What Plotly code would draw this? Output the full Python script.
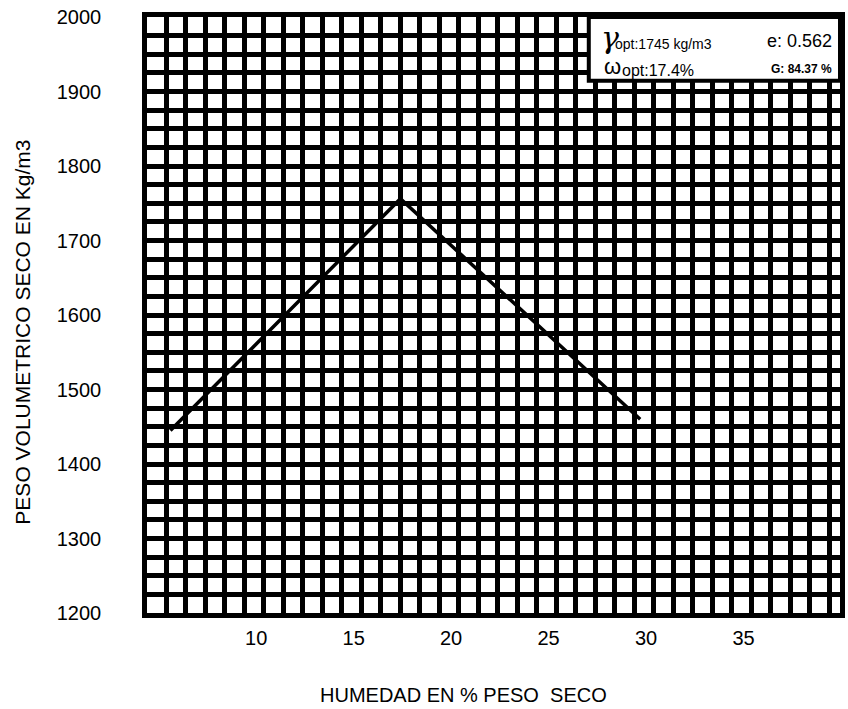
import plotly.graph_objects as go

# Data
moisture = [5.6, 17.4, 29.7]          # % peso seco
dry_density = [1445, 1756, 1460]       # kg/m3

x_ticks = [10, 15, 20, 25, 30, 35]
y_ticks = [1200, 1300, 1400, 1500, 1600, 1700, 1800, 1900, 2000]
x_range = [4.4, 39.95]
y_range = [1200, 2000]

gamma_opt = "1745 kg/m3"
w_opt = "17.4%"
e_val = "0.562"
g_val = "84.37 %"

FONT = "Liberation Sans"

fig = go.Figure()
fig.add_trace(go.Scatter(
    x=moisture, y=dry_density, mode="lines",
    line=dict(color="black", width=3.5),
    showlegend=False, hoverinfo="skip",
))

fig.update_layout(
    width=848, height=709,
    margin=dict(l=147, r=3, t=17, b=96),
    paper_bgcolor="white", plot_bgcolor="white",
    font=dict(family=FONT, color="black", size=20),
    showlegend=False,
)

fig.update_xaxes(
    range=x_range, tickvals=x_ticks, ticktext=[str(v) for v in x_ticks],
    ticks="", ticklabelstandoff=3, showgrid=False, zeroline=False,
    showline=True, linecolor="black", linewidth=4.5, mirror=True,
    tickfont=dict(size=20, family=FONT),
    minor=dict(tick0=x_range[0], dtick=1, showgrid=True,
               gridcolor="black", gridwidth=4.6, ticks=""),
)
fig.update_yaxes(
    range=y_range, tickvals=y_ticks, ticktext=[str(v) for v in y_ticks],
    ticks="", ticklabelstandoff=37, showgrid=False, zeroline=False,
    showline=True, linecolor="black", linewidth=4.5, mirror=True,
    tickfont=dict(size=20, family=FONT),
    minor=dict(tick0=y_range[0], dtick=25, showgrid=True,
               gridcolor="black", gridwidth=4.6, ticks=""),
)

# Axis titles
fig.add_annotation(
    text="HUMEDAD EN % PESO&nbsp;&nbsp;SECO", xref="paper", yref="paper",
    x=0.457, y=-0.138, showarrow=False, xanchor="center", yanchor="middle",
    font=dict(size=20, family=FONT),
)
fig.add_annotation(
    text="PESO VOLUMETRICO SECO EN Kg/m3", xref="paper", yref="paper",
    x=-0.179, y=0.472, showarrow=False, textangle=-90,
    xanchor="center", yanchor="middle", font=dict(size=21, family=FONT),
)

# Info box
fig.add_shape(
    type="rect", xref="paper", yref="paper",
    x0=0.6375, x1=1.0, y0=0.893, y1=1.0,
    fillcolor="white", line=dict(color="black", width=4), layer="above",
)
fig.add_annotation(
    text="<i>γ</i>", xref="paper", yref="paper", x=0.652, y=0.965,
    showarrow=False, xanchor="left", yanchor="middle",
    font=dict(size=30, family="DejaVu Serif"),
)
fig.add_annotation(
    text="opt:" + gamma_opt, xref="paper", yref="paper", x=0.673, y=0.955,
    showarrow=False, xanchor="left", yanchor="middle",
    font=dict(size=14, family=FONT),
)
fig.add_annotation(
    text="e: " + e_val, xref="paper", yref="paper", x=0.992, y=0.959,
    showarrow=False, xanchor="right", yanchor="middle",
    font=dict(size=18, family=FONT),
)
fig.add_annotation(
    text="ω", xref="paper", yref="paper", x=0.656, y=0.917,
    showarrow=False, xanchor="left", yanchor="middle",
    font=dict(size=22, family=FONT),
)
fig.add_annotation(
    text="opt:" + w_opt, xref="paper", yref="paper", x=0.683, y=0.910,
    showarrow=False, xanchor="left", yanchor="middle",
    font=dict(size=16, family=FONT),
)
fig.add_annotation(
    text="<b>G: " + g_val + "</b>", xref="paper", yref="paper", x=0.992, y=0.912,
    showarrow=False, xanchor="right", yanchor="middle",
    font=dict(size=12, family=FONT),
)

fig.write_html(
    "out.html",
    config={"displayModeBar": False},
    post_script="document.body.style.margin='0';document.body.style.overflow='hidden';",
)
